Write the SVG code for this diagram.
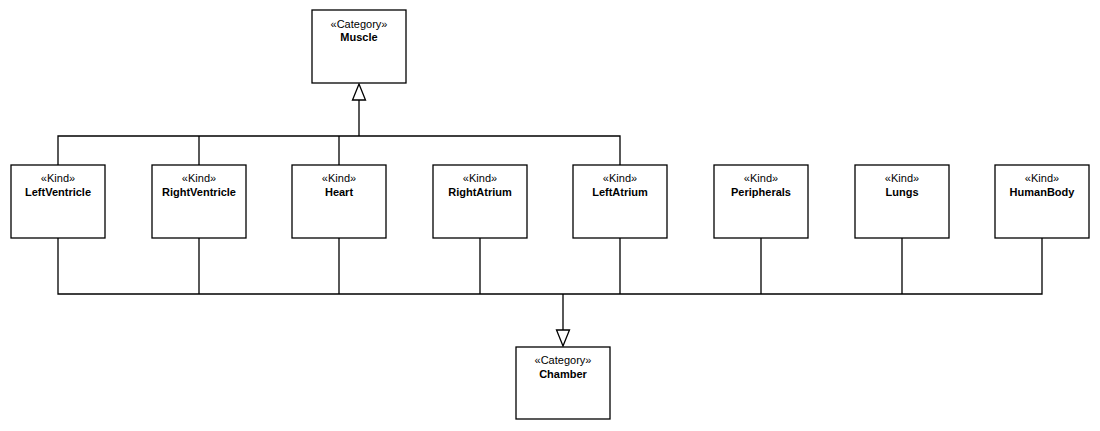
<svg xmlns="http://www.w3.org/2000/svg" width="1100" height="431" viewBox="0 0 1100 431">
<style>
.box{fill:#fff;stroke:#000;stroke-width:1.3}
.st{font-family:"Liberation Sans",Arial,sans-serif;font-size:11px;text-anchor:middle;fill:#000}
.nm{font-family:"Liberation Sans",Arial,sans-serif;font-size:11px;font-weight:bold;text-anchor:middle;fill:#000}
.ln{fill:none;stroke:#000;stroke-width:1.3}
.ah{fill:#fff;stroke:#000;stroke-width:1.3}
</style>
<rect width="1100" height="431" fill="#fff"/>
<g id="connectors">
<path class="ln" d="M58,165V136H620V165M199,136V165M339,136V165M359,136V100"/>
<polygon class="ah" points="359,84 352.5,100 365.5,100"/>
<path class="ln" d="M58,238V294H1042V238M199,238V294M339,238V294M480,238V294M620,238V294M761,238V294M902,238V294M563,294V330"/>
<polygon class="ah" points="563,346 556.5,330 569.5,330"/>
</g>
<g id="Muscle"><rect class="box" x="312" y="10" width="94" height="73"/><text class="st" x="359" y="28">«Category»</text><text class="nm" x="359" y="41">Muscle</text></g>
<g id="LeftVentricle"><rect class="box" x="11" y="165" width="94" height="73"/><text class="st" x="58" y="182">«Kind»</text><text class="nm" x="58" y="196">LeftVentricle</text></g>
<g id="RightVentricle"><rect class="box" x="152" y="165" width="94" height="73"/><text class="st" x="199" y="182">«Kind»</text><text class="nm" x="199" y="196">RightVentricle</text></g>
<g id="Heart"><rect class="box" x="292" y="165" width="94" height="73"/><text class="st" x="339" y="182">«Kind»</text><text class="nm" x="339" y="196">Heart</text></g>
<g id="RightAtrium"><rect class="box" x="433" y="165" width="94" height="73"/><text class="st" x="480" y="182">«Kind»</text><text class="nm" x="480" y="196">RightAtrium</text></g>
<g id="LeftAtrium"><rect class="box" x="573" y="165" width="94" height="73"/><text class="st" x="620" y="182">«Kind»</text><text class="nm" x="620" y="196">LeftAtrium</text></g>
<g id="Peripherals"><rect class="box" x="714" y="165" width="94" height="73"/><text class="st" x="761" y="182">«Kind»</text><text class="nm" x="761" y="196">Peripherals</text></g>
<g id="Lungs"><rect class="box" x="855" y="165" width="94" height="73"/><text class="st" x="902" y="182">«Kind»</text><text class="nm" x="902" y="196">Lungs</text></g>
<g id="HumanBody"><rect class="box" x="995" y="165" width="94" height="73"/><text class="st" x="1042" y="182">«Kind»</text><text class="nm" x="1042" y="196">HumanBody</text></g>
<g id="Chamber"><rect class="box" x="516" y="347" width="94" height="72"/><text class="st" x="563" y="364">«Category»</text><text class="nm" x="563" y="378">Chamber</text></g>
</svg>
